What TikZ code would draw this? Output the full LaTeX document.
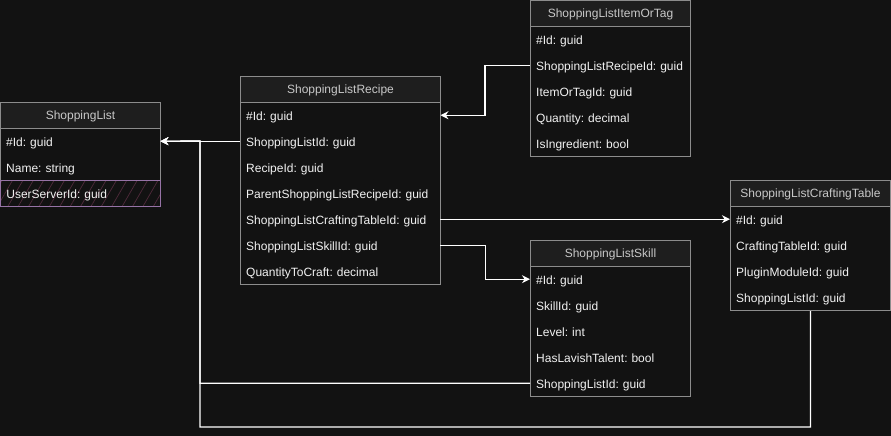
\documentclass[tikz,border=0pt]{standalone}
\usepackage{fontspec}
\setmainfont{Liberation Sans}
\usetikzlibrary{arrows.meta,patterns.meta,calc}
\definecolor{bgc}{HTML}{121212}
\definecolor{hdrc}{HTML}{1E1E1E}
\definecolor{bord}{HTML}{8C8C8C}
\definecolor{hdrtxt}{HTML}{C8C8C8}
\definecolor{rowtxt}{HTML}{F2F2F2}
\definecolor{purp}{HTML}{9673A6}
\definecolor{hatchc}{HTML}{4F2A3A}
\tikzset{
  fs/.style={font=\fontsize{12}{14}\selectfont\frenchspacing},
  hdrbox/.style={fs, anchor=north west, minimum height=26pt, minimum width=#1, inner sep=0pt, text height=10pt, text depth=2pt, draw=bord, fill=hdrc, text=hdrtxt, line width=1pt},
  bodybox/.style={anchor=north west, inner sep=0pt, draw=bord, fill=bgc, line width=1pt},
  rowbox/.style={fs, anchor=north west, minimum height=26pt, inner ysep=0pt, inner xsep=6pt, text height=11pt, text depth=1pt, text width=#1, align=left, text=rowtxt,
    execute at begin node=\hbox\bgroup, execute at end node=\egroup},
  conn/.style={draw=white, line width=1.2pt, -{Stealth[length=8pt,width=8pt,inset=2.5pt]}},
}
\begin{document}
\begin{tikzpicture}[x=1pt,y=-1pt]
\fill[bgc] (0,0) rectangle (891,436);
\useasboundingbox (0,0) rectangle (891,436);

% ShoppingList
\node[bodybox, minimum width=160pt, minimum height=78pt] (sl) at (0,128) {};
\node[hdrbox=160pt] (sl-h) at (0,102) {ShoppingList};
\node[rowbox=148pt] (sl-id) at (0,128) {\#Id: guid};
\node[rowbox=148pt] (sl-name) at (0,154) {Name: string};
\node[rowbox=148pt, minimum width=160pt, draw=purp, line width=1pt, pattern={Lines[angle=60,distance=9pt,line width=0.7pt]}, pattern color=hatchc] (sl-us) at (0,180) {UserServerId: guid};

% ShoppingListRecipe
\node[bodybox, minimum width=200pt, minimum height=182pt] (slr) at (240,102) {};
\node[hdrbox=200pt] (slr-h) at (240,76) {ShoppingListRecipe};
\node[rowbox=188pt] (slr-id) at (240,102) {\#Id: guid};
\node[rowbox=188pt] (slr-slid) at (240,128) {ShoppingListId: guid};
\node[rowbox=188pt] (slr-rid) at (240,154) {RecipeId: guid};
\node[rowbox=188pt] (slr-pid) at (240,180) {ParentShoppingListRecipeId: guid};
\node[rowbox=188pt] (slr-ctid) at (240,206) {ShoppingListCraftingTableId: guid};
\node[rowbox=188pt] (slr-skid) at (240,232) {ShoppingListSkillId: guid};
\node[rowbox=188pt] (slr-qty) at (240,258) {QuantityToCraft: decimal};

% ShoppingListItemOrTag
\node[bodybox, minimum width=160pt, minimum height=130pt] (it) at (530,26) {};
\node[hdrbox=160pt] (it-h) at (530,0.5) {ShoppingListItemOrTag};
\node[rowbox=148pt] (it-id) at (530,26) {\#Id: guid};
\node[rowbox=148pt] (it-rid) at (530,52) {ShoppingListRecipeId: guid};
\node[rowbox=148pt] (it-iid) at (530,78) {ItemOrTagId: guid};
\node[rowbox=148pt] (it-q) at (530,104) {Quantity: decimal};
\node[rowbox=148pt] (it-ing) at (530,130) {IsIngredient: bool};

% ShoppingListCraftingTable
\node[bodybox, minimum width=160pt, minimum height=104pt] (ct) at (730,206) {};
\node[hdrbox=160pt] (ct-h) at (730,180) {ShoppingListCraftingTable};
\node[rowbox=148pt] (ct-id) at (730,206) {\#Id: guid};
\node[rowbox=148pt] (ct-tid) at (730,232) {CraftingTableId: guid};
\node[rowbox=148pt] (ct-pid) at (730,258) {PluginModuleId: guid};
\node[rowbox=148pt] (ct-slid) at (730,284) {ShoppingListId: guid};

% ShoppingListSkill
\node[bodybox, minimum width=160pt, minimum height=130pt] (sk) at (530,266) {};
\node[hdrbox=160pt] (sk-h) at (530,240) {ShoppingListSkill};
\node[rowbox=148pt] (sk-id) at (530,266) {\#Id: guid};
\node[rowbox=148pt] (sk-sid) at (530,292) {SkillId: guid};
\node[rowbox=148pt] (sk-lvl) at (530,318) {Level: int};
\node[rowbox=148pt] (sk-lav) at (530,344) {HasLavishTalent: bool};
\node[rowbox=148pt] (sk-slid) at (530,370) {ShoppingListId: guid};

% junction coordinates
\coordinate (jx) at (200,141);
\coordinate (jb) at (200,427);

% connectors
\draw[conn] (slr-slid.west) -- (sl-id.east);
\draw[conn] (sk-slid.west) -| (jx) -- (sl-id.east);
\draw[conn] (ct.south) |- (jb) -- (jx) -- (sl-id.east);
\draw[conn] (it-rid.west) -- ++(-45,0) |- (slr-id.east);
\draw[conn] (slr-ctid.east) -- (ct-id.west);
\draw[conn] (slr-skid.east) -- ++(45,0) |- (sk-id.west);
\end{tikzpicture}
\end{document}
